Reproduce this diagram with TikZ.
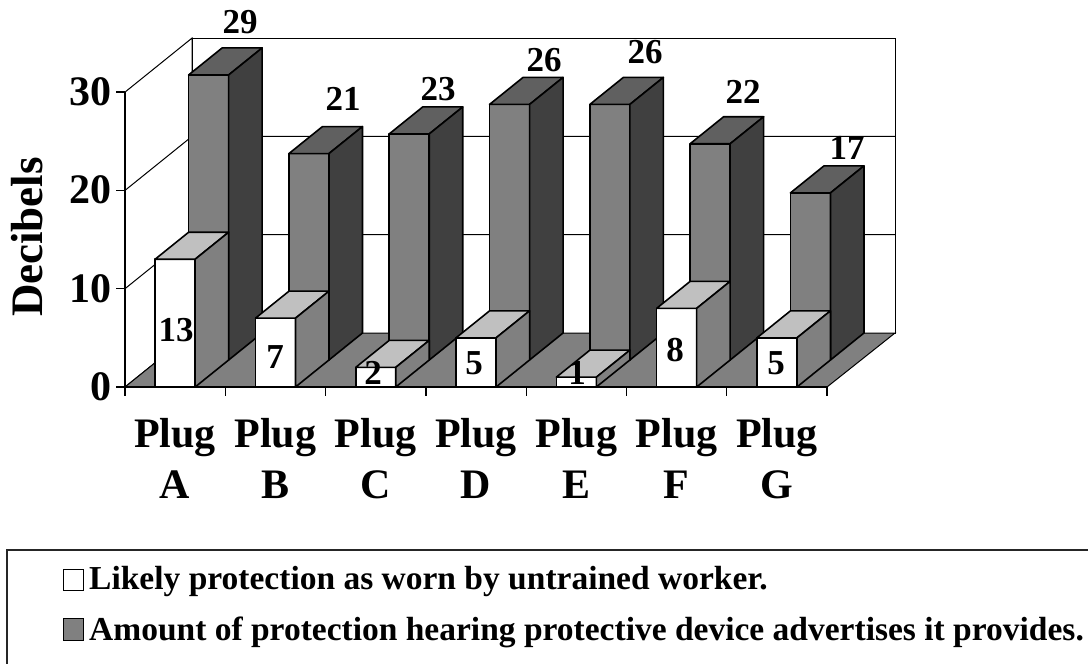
\documentclass[tikz,border=0pt]{standalone}
\usepackage{fontspec}
\setmainfont{Liberation Serif}
\definecolor{gmid}{HTML}{808080}
\definecolor{glight}{HTML}{C0C0C0}
\definecolor{gtop}{HTML}{606060}
\definecolor{gdark}{HTML}{404040}
\tikzset{
  edge/.style={draw=black,line width=1.6pt,line join=round},
  grid/.style={draw=black,line width=1pt},
  fw/.style={edge,fill=white},
  tw/.style={edge,fill=glight},
  sw/.style={edge,fill=gmid},
  fg/.style={edge,fill=gmid},
  tg/.style={edge,fill=gtop},
  sg/.style={edge,fill=gdark},
  vlab/.style={font=\fontsize{35}{35}\selectfont\bfseries,inner sep=0pt},
  axlab/.style={font=\fontsize{42}{42}\selectfont\bfseries,inner sep=0pt},
  leglab/.style={font=\fontsize{33.5}{34}\selectfont\bfseries,inner sep=0pt,anchor=base west},
}
% one 3-D column: category, value, row (0 front, 1 back), face styles
\newcommand\drawcol[6]{%
  \pgfmathsetmacro\bx{125+100.3*(#1+0.5)-20+33.5*#3}%
  \pgfmathsetmacro\by{387-27*#3}%
  \pgfmathsetmacro\bt{\by-9.83*#2}%
  \path[#4] (\bx,\by) rectangle (\bx+40,\bt);
  \path[#5] (\bx,\bt) -- (\bx+40,\bt) -- (\bx+73.5,\bt-27) -- (\bx+33.5,\bt-27) -- cycle;
  \path[#6] (\bx+40,\by) -- (\bx+73.5,\by-27) -- (\bx+73.5,\bt-27) -- (\bx+40,\bt) -- cycle;
}
\begin{document}
\begin{tikzpicture}[x=1pt,y=-1pt]
\useasboundingbox (0,0) rectangle (1088,664);
% walls
\path[grid,fill=white] (125,387) -- (125,92.1) -- (192,38.1) -- (192,333) -- cycle;
\path[grid,fill=white] (192,38.1) rectangle (895,333);
\foreach \k in {1,2} {
  \draw[grid] (125,387-98.3*\k) -- (192,333-98.3*\k) -- (895,333-98.3*\k);
}
% floor
\path[grid,fill=gmid] (125,387) -- (192,333) -- (895,333) -- (827,387) -- cycle;
% axes and ticks
\draw[grid,line width=1.3pt] (125,92.1) -- (125,387) -- (827,387);
\foreach \k in {0,...,3} { \draw[grid,line width=1.3pt] (116,387-98.3*\k) -- (125,387-98.3*\k); }
\foreach \k in {0,...,7} { \draw[grid,line width=1.3pt] (125+100.3*\k,387) -- (125+100.3*\k,396); }
% advertised protection (back row)
\foreach \c/\v in {0/29,1/21,2/23,3/26,4/26,5/22,6/17} { \drawcol{\c}{\v}{1}{fg}{tg}{sg} }
% likely protection (front row)
\foreach \c/\v in {0/13,1/7,2/2,3/5,4/1,5/8,6/5} { \drawcol{\c}{\v}{0}{fw}{tw}{sw} }
% value labels
\node[vlab] (wA) at (176,330) {13};
\node[vlab] (wB) at (275,357) {7};
\node[vlab] (wC) at (373,373) {2};
\node[vlab] (wD) at (474,363) {5};
\node[vlab] (wE) at (577,373) {1};
\node[vlab] (wF) at (675,350) {8};
\node[vlab] (wG) at (776,363) {5};
\node[vlab] (gA) at (240,22) {29};
\node[vlab] (gB) at (343,99) {21};
\node[vlab] (gC) at (438,89) {23};
\node[vlab] (gD) at (544,60) {26};
\node[vlab] (gE) at (645,52) {26};
\node[vlab] (gF) at (743,92) {22};
\node[vlab] (gG) at (847,148) {17};
% value axis
\node[axlab,anchor=east] (y30) at (112,92) {30};
\node[axlab,anchor=east] (y20) at (112,190) {20};
\node[axlab,anchor=east] (y10) at (112,289) {10};
\node[axlab,anchor=east] (y0) at (112,387) {0};
\node[axlab,font=\fontsize{45}{45}\selectfont\bfseries,rotate=90] (ytitle) at (27,237) {Decibels};
% category axis
\foreach \c/\l in {0/A,1/B,2/C,3/D,4/E,5/F,6/G} {
  \node[axlab,anchor=base] (p\l) at (125+100.3*\c+50.15,447) {Plug};
  \node[axlab,anchor=base] (c\l) at (125+100.3*\c+50.15,498) {\l};
}
% legend
\draw[line width=1.6pt,draw=black!85] (7,550) rectangle (1100,690);
\path[grid,fill=white] (63,569) rectangle (83,590);
\path[grid,fill=gmid] (63,618) rectangle (83,640);
\node[leglab] (leg1) at (89,589) {Likely protection as worn by untrained worker.};
\node[leglab] (leg2) at (89,640) {Amount of protection hearing protective device advertises it provides.};
\end{tikzpicture}
\end{document}
